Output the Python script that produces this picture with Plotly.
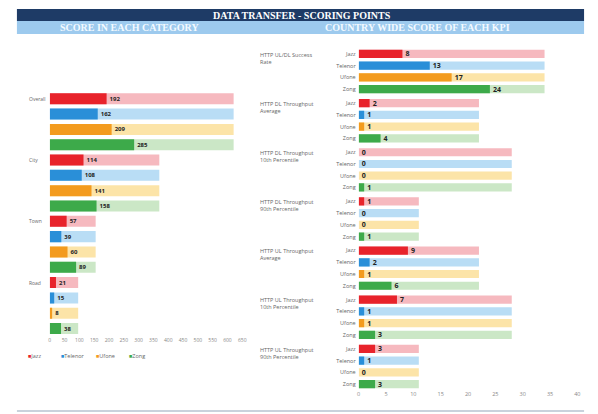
import plotly.graph_objects as go

W, H = 598, 414

operators = ["Jazz", "Telenor", "Ufone", "Zong"]
categories = ["Overall", "City", "Town", "Road"]

jazz_cat = [192, 114, 57, 21]
telenor_cat = [162, 108, 39, 15]
ufone_cat = [209, 141, 60, 8]
zong_cat = [285, 158, 89, 38]
cat_max = [621, 370, 155, 96]

kpis = [
    "HTTP UL/DL Success<br>Rate",
    "HTTP DL Throughput<br>Average",
    "HTTP DL Throughput<br>10th Percentile",
    "HTTP DL Throughput<br>90th Percentile",
    "HTTP UL Throughput<br>Average",
    "HTTP UL Throughput<br>10th Percentile",
    "HTTP UL Throughput<br>90th Percentile",
]
jazz_kpi = [8, 2, 0, 1, 9, 7, 3]
telenor_kpi = [13, 1, 0, 0, 2, 1, 1]
ufone_kpi = [17, 1, 0, 0, 1, 1, 0]
zong_kpi = [24, 4, 1, 1, 6, 3, 3]
kpi_max = [34, 22, 28, 11, 22, 28, 11]

left_ticks = list(range(0, 651, 50))
right_ticks = list(range(0, 41, 5))

strong = {"Jazz": "#E8232B", "Telenor": "#2A8FD8", "Ufone": "#F39B1E", "Zong": "#3DAA4A"}
light = {"Jazz": "#F6B9BF", "Telenor": "#B9DDF5", "Ufone": "#FCE4A8", "Zong": "#CBE7C6"}

cat_vals = {"Jazz": jazz_cat, "Telenor": telenor_cat, "Ufone": ufone_cat, "Zong": zong_cat}
kpi_vals = {"Jazz": jazz_kpi, "Telenor": telenor_kpi, "Ufone": ufone_kpi, "Zong": zong_kpi}

FONT = "Open Sans"
fig = go.Figure()

# left chart
for j, op in enumerate(operators):
    ys = [c * 4 + j for c in range(len(categories))]
    fig.add_bar(x=cat_max, y=ys, orientation="h", width=0.72, marker_color=light[op],
                marker_line_width=0, xaxis="x", yaxis="y", showlegend=False, hoverinfo="skip")
    fig.add_bar(x=cat_vals[op], y=ys, orientation="h", width=0.72, marker_color=strong[op],
                marker_line_width=0, xaxis="x", yaxis="y", showlegend=False, name=op,
                texttemplate="<b>%{x}</b>", textposition="outside", constraintext="none",
                cliponaxis=False, textfont=dict(size=6, color="#222222", family=FONT))

# right chart
GP = 4.19
for j, op in enumerate(operators):
    ys = [g * GP + j for g in range(len(kpis))]
    fig.add_bar(x=kpi_max, y=ys, orientation="h", width=0.7, marker_color=light[op],
                marker_line_width=0, xaxis="x2", yaxis="y2", showlegend=False, hoverinfo="skip")
    fig.add_bar(x=kpi_vals[op], y=ys, orientation="h", width=0.7, marker_color=strong[op],
                marker_line_width=0, xaxis="x2", yaxis="y2", showlegend=False, name=op,
                texttemplate="<b>%{x}</b>", textposition="outside", constraintext="none",
                cliponaxis=False, textfont=dict(size=7, color="#222222", family=FONT))

right_pos = [g * GP + j for g in range(len(kpis)) for j in range(4)]
right_text = [operators[j] for g in range(len(kpis)) for j in range(4)]

def px(x):
    return x / W

def py(y):
    return 1 - y / H

shapes = [
    dict(type="rect", xref="paper", yref="paper", x0=px(15), x1=px(585), y0=py(21), y1=py(9),
         fillcolor="#1E3B66", line_width=0, layer="below"),
    dict(type="rect", xref="paper", yref="paper", x0=px(15), x1=px(585), y0=py(34), y1=py(21),
         fillcolor="#9DCAEE", line_width=0, layer="below"),
    dict(type="line", xref="paper", yref="paper", x0=px(15), x1=px(585), y0=py(411), y1=py(411),
         line=dict(color="#C9D2DC", width=2)),
]

annotations = [
    dict(text="<b>DATA TRANSFER - SCORING POINTS</b>", xref="paper", yref="paper", x=px(302), y=py(15),
         showarrow=False, font=dict(family="Liberation Serif", size=10, color="white"),
         xanchor="center", yanchor="middle"),
    dict(text="<b>SCORE IN EACH CATEGORY</b>", xref="paper", yref="paper", x=px(128), y=py(28),
         showarrow=False, font=dict(family="Liberation Serif", size=10, color="#F4FAFF"),
         xanchor="center", yanchor="middle"),
    dict(text="<b>COUNTRY WIDE SCORE OF EACH KPI</b>", xref="paper", yref="paper", x=px(418), y=py(28),
         showarrow=False, font=dict(family="Liberation Serif", size=10, color="#F4FAFF"),
         xanchor="center", yanchor="middle"),
]

for c, cat in enumerate(categories):
    annotations.append(dict(text=cat, xref="paper", yref="y", x=px(25), y=c * 4,
                            showarrow=False, xanchor="left", yanchor="middle",
                            font=dict(family=FONT, size=5, color="#666666")))

for g, k in enumerate(kpis):
    annotations.append(dict(text=k, xref="paper", yref="y2", x=px(257), y=g * GP - 0.45,
                            showarrow=False, xanchor="left", yanchor="top", align="left",
                            font=dict(family=FONT, size=5.5, color="#666666")))

leg_x = [24, 57, 92, 126]
for op, lx in zip(operators, leg_x):
    annotations.append(dict(text=f"<span style='color:{strong[op]}'>■</span>{op}",
                            xref="paper", yref="paper", x=px(lx), y=py(356),
                            showarrow=False, xanchor="left", yanchor="middle",
                            font=dict(family=FONT, size=5.5, color="#666666")))

fig.update_layout(
    width=W, height=H, margin=dict(l=0, r=0, t=0, b=0),
    paper_bgcolor="white", plot_bgcolor="white",
    barmode="overlay", showlegend=False,
    font=dict(family=FONT, size=6, color="#777777"),
    xaxis=dict(domain=[px(48), px(245)], range=[0, 662], anchor="y",
               tickvals=left_ticks, ticks="", showgrid=False, zeroline=False, showline=False,
               tickfont=dict(size=5, color="#888888")),
    yaxis=dict(domain=[py(336.2), py(91.1)], range=[15.5, -0.5], anchor="x",
               showticklabels=False, showgrid=False, zeroline=False, showline=False, ticks=""),
    xaxis2=dict(domain=[px(358.5), px(581)], range=[0, 40.5], anchor="y2",
                tickvals=right_ticks, ticks="", showgrid=False, zeroline=False, showline=False,
                tickfont=dict(size=5.5, color="#888888")),
    yaxis2=dict(domain=[py(389.9), py(48.1)], range=[6 * GP + 3 + 0.5, -0.5], anchor="x2",
                tickvals=right_pos, ticktext=right_text, ticks="", ticklabelstandoff=2,
                showgrid=False, zeroline=False, showline=False,
                tickfont=dict(size=5.5, color="#666666")),
    shapes=shapes, annotations=annotations,
)

fig.write_html("out.html", config={"displayModeBar": False},
               post_script="document.body.style.margin='0';")
